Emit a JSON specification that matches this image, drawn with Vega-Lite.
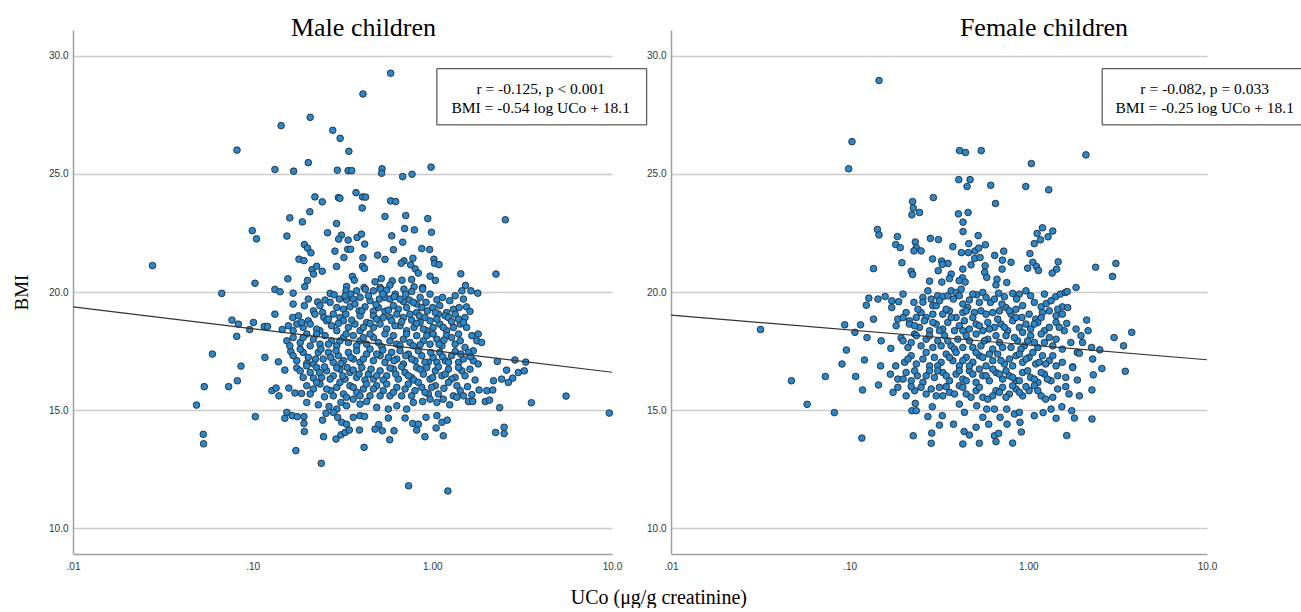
{
"$schema": "https://vega.github.io/schema/vega-lite/v6.json",
"background": "white",
"padding": {"left": 12, "top": 15, "right": 0, "bottom": 0},
"spacing": 59,
"bounds": "flush",
"title": {"text": "UCo (μg/g creatinine)", "orient": "bottom", "anchor": "middle", "dx": -5, "font": "Liberation Serif", "fontSize": 20, "fontWeight": "normal", "color": "#000000", "offset": 17},
"datasets": {
"maleBox": [{"uco": 1.06, "uco2": 15.6, "bmi": 29.46, "bmi2": 27.08}],
"femaleBox": [{"uco": 2.59, "uco2": 40.0, "bmi": 29.46, "bmi2": 27.08}],
"maleText": [{"uco": 4.01, "bmi": 28.62, "label": "r = -0.125, p < 0.001"}, {"uco": 4.01, "bmi": 27.81, "label": "BMI = -0.54 log UCo + 18.1"}],
"femaleText": [{"uco": 9.7, "bmi": 28.62, "label": "r = -0.082, p = 0.033"}, {"uco": 9.7, "bmi": 27.81, "label": "BMI = -0.25 log UCo + 18.1"}],
"maleLine": [{"uco": 0.01, "bmi": 19.37}, {"uco": 10, "bmi": 16.6}],
"femaleLine": [{"uco": 0.01, "bmi": 19.02}, {"uco": 10, "bmi": 17.13}],
"male": [
{"uco":0.586,"bmi":29.27},{"uco":0.411,"bmi":28.39},{"uco":0.209,"bmi":27.40},{"uco":0.144,"bmi":27.05},{"uco":0.279,"bmi":26.85},{"uco":0.307,"bmi":26.51},{"uco":0.0818,"bmi":26.01},{"uco":0.343,"bmi":25.96},{"uco":0.204,"bmi":25.48},{"uco":0.133,"bmi":25.19},
{"uco":0.169,"bmi":25.12},{"uco":0.296,"bmi":25.16},{"uco":0.340,"bmi":25.14},{"uco":0.356,"bmi":25.14},{"uco":0.525,"bmi":25.22},{"uco":0.522,"bmi":25.03},{"uco":0.684,"bmi":24.89},{"uco":0.771,"bmi":24.99},{"uco":0.984,"bmi":25.29},{"uco":0.222,"bmi":24.03},
{"uco":0.244,"bmi":23.82},{"uco":0.300,"bmi":24.00},{"uco":0.306,"bmi":23.97},{"uco":0.376,"bmi":24.21},{"uco":0.409,"bmi":24.03},{"uco":0.425,"bmi":24.02},{"uco":0.586,"bmi":23.86},{"uco":0.625,"bmi":23.83},{"uco":0.407,"bmi":23.56},{"uco":0.208,"bmi":23.40},
{"uco":0.161,"bmi":23.14},{"uco":0.189,"bmi":22.97},{"uco":0.545,"bmi":23.20},{"uco":0.711,"bmi":23.24},{"uco":0.943,"bmi":23.11},{"uco":2.55,"bmi":23.06},{"uco":0.293,"bmi":22.90},{"uco":0.0995,"bmi":22.60},{"uco":0.105,"bmi":22.25},{"uco":0.155,"bmi":22.37},
{"uco":0.261,"bmi":22.51},{"uco":0.312,"bmi":22.41},{"uco":0.301,"bmi":22.24},{"uco":0.340,"bmi":22.20},{"uco":0.381,"bmi":22.31},{"uco":0.403,"bmi":22.45},{"uco":0.420,"bmi":22.03},{"uco":0.594,"bmi":22.38},{"uco":0.701,"bmi":22.69},{"uco":0.794,"bmi":22.63},
{"uco":0.989,"bmi":22.53},{"uco":0.684,"bmi":22.11},{"uco":0.194,"bmi":22.01},{"uco":0.202,"bmi":21.86},{"uco":0.211,"bmi":21.66},{"uco":0.287,"bmi":21.73},{"uco":0.338,"bmi":21.81},{"uco":0.351,"bmi":21.81},{"uco":0.322,"bmi":21.46},{"uco":0.181,"bmi":21.39},
{"uco":0.193,"bmi":21.33},{"uco":0.293,"bmi":21.08},{"uco":0.411,"bmi":21.45},{"uco":0.409,"bmi":21.09},{"uco":0.419,"bmi":21.00},{"uco":0.496,"bmi":21.56},{"uco":0.545,"bmi":21.38},{"uco":0.607,"bmi":21.79},{"uco":0.873,"bmi":21.84},{"uco":0.966,"bmi":21.80},
{"uco":0.780,"bmi":21.43},{"uco":0.695,"bmi":21.32},{"uco":0.671,"bmi":21.22},{"uco":0.757,"bmi":21.15},{"uco":0.803,"bmi":20.98},{"uco":0.835,"bmi":20.80},{"uco":1.02,"bmi":21.39},{"uco":1.03,"bmi":21.21},{"uco":1.09,"bmi":21.16},{"uco":0.0277,"bmi":21.12},
{"uco":0.214,"bmi":20.95},{"uco":0.227,"bmi":21.09},{"uco":0.244,"bmi":20.88},{"uco":0.218,"bmi":20.76},{"uco":0.103,"bmi":20.37},{"uco":0.157,"bmi":20.56},{"uco":0.202,"bmi":20.49},{"uco":0.195,"bmi":20.23},{"uco":0.359,"bmi":20.66},{"uco":0.368,"bmi":20.50},
{"uco":0.480,"bmi":20.43},{"uco":0.520,"bmi":20.57},{"uco":0.598,"bmi":20.47},{"uco":0.678,"bmi":20.50},{"uco":0.767,"bmi":20.53},{"uco":0.971,"bmi":20.67},{"uco":1.04,"bmi":20.49},{"uco":1.44,"bmi":20.77},{"uco":2.26,"bmi":20.76},{"uco":1.53,"bmi":20.28},
{"uco":0.333,"bmi":20.23},{"uco":0.417,"bmi":20.19},{"uco":0.512,"bmi":20.19},{"uco":0.581,"bmi":20.29},{"uco":0.791,"bmi":20.22},{"uco":0.883,"bmi":20.19},
{"uco":0.0673,"bmi":19.94},{"uco":0.133,"bmi":20.11},{"uco":0.142,"bmi":20.01},{"uco":0.168,"bmi":19.95},{"uco":0.270,"bmi":19.94},{"uco":0.284,"bmi":19.88},{"uco":0.331,"bmi":20.05},{"uco":0.351,"bmi":19.91},{"uco":0.379,"bmi":20.05},{"uco":0.424,"bmi":20.12},
{"uco":0.470,"bmi":20.05},{"uco":0.516,"bmi":20.12},{"uco":0.557,"bmi":20.08},{"uco":0.622,"bmi":19.91},{"uco":0.695,"bmi":20.12},{"uco":0.767,"bmi":20.02},{"uco":0.883,"bmi":20.12},{"uco":1.34,"bmi":19.84},{"uco":1.46,"bmi":20.05},{"uco":1.64,"bmi":20.05},
{"uco":1.79,"bmi":19.95},
{"uco":0.168,"bmi":19.49},{"uco":0.230,"bmi":19.58},{"uco":0.253,"bmi":19.66},{"uco":0.304,"bmi":19.70},{"uco":0.333,"bmi":19.66},{"uco":0.363,"bmi":19.70},{"uco":0.396,"bmi":19.77},{"uco":0.450,"bmi":19.63},{"uco":0.507,"bmi":19.70},{"uco":0.545,"bmi":19.77},
{"uco":0.581,"bmi":19.70},{"uco":0.615,"bmi":19.80},{"uco":0.690,"bmi":19.60},{"uco":0.745,"bmi":19.66},{"uco":0.818,"bmi":19.49},{"uco":0.922,"bmi":19.56},{"uco":1.06,"bmi":19.67},{"uco":1.14,"bmi":19.77},
{"uco":0.194,"bmi":19.42},{"uco":0.218,"bmi":19.20},{"uco":0.245,"bmi":19.13},{"uco":0.320,"bmi":19.27},{"uco":0.348,"bmi":19.37},{"uco":0.391,"bmi":19.20},{"uco":0.422,"bmi":19.37},{"uco":0.470,"bmi":19.18},{"uco":0.501,"bmi":19.34},{"uco":0.545,"bmi":19.18},
{"uco":0.607,"bmi":19.42},{"uco":0.647,"bmi":19.27},{"uco":0.719,"bmi":19.34},{"uco":0.818,"bmi":19.13},{"uco":0.873,"bmi":19.34},{"uco":0.938,"bmi":19.20},{"uco":1.005,"bmi":19.34},{"uco":1.20,"bmi":19.13},{"uco":1.31,"bmi":19.27},{"uco":1.55,"bmi":19.37},
{"uco":1.62,"bmi":19.18},
{"uco":0.0767,"bmi":18.81},{"uco":0.0832,"bmi":18.64},{"uco":0.101,"bmi":18.71},{"uco":0.0962,"bmi":18.41},{"uco":0.116,"bmi":18.54},{"uco":0.121,"bmi":18.54},{"uco":0.133,"bmi":19.06},{"uco":0.146,"bmi":18.41},{"uco":0.158,"bmi":18.57},{"uco":0.167,"bmi":18.92},
{"uco":0.168,"bmi":18.36},{"uco":0.180,"bmi":18.99},{"uco":0.176,"bmi":18.64},{"uco":0.191,"bmi":18.50},{"uco":0.204,"bmi":18.78},{"uco":0.209,"bmi":18.64},{"uco":0.222,"bmi":19.06},{"uco":0.237,"bmi":18.36},{"uco":0.249,"bmi":18.92},{"uco":0.258,"bmi":18.78},
{"uco":0.275,"bmi":18.57},{"uco":0.281,"bmi":19.06},{"uco":0.294,"bmi":18.36},{"uco":0.306,"bmi":18.92},{"uco":0.320,"bmi":18.78},{"uco":0.330,"bmi":19.06},{"uco":0.341,"bmi":18.50},{"uco":0.371,"bmi":18.64},{"uco":0.396,"bmi":18.36},{"uco":0.396,"bmi":18.99},
{"uco":0.431,"bmi":18.71},{"uco":0.470,"bmi":18.50},{"uco":0.470,"bmi":18.99},{"uco":0.490,"bmi":18.85},{"uco":0.512,"bmi":18.64},{"uco":0.557,"bmi":18.43},{"uco":0.581,"bmi":18.92},{"uco":0.594,"bmi":18.78},{"uco":0.634,"bmi":19.06},{"uco":0.661,"bmi":18.57},
{"uco":0.690,"bmi":18.92},{"uco":0.719,"bmi":18.36},{"uco":0.767,"bmi":18.81},{"uco":0.791,"bmi":18.50},{"uco":0.847,"bmi":18.99},{"uco":0.855,"bmi":18.71},{"uco":0.910,"bmi":18.92},{"uco":0.931,"bmi":18.36},{"uco":1.01,"bmi":18.50},{"uco":1.08,"bmi":19.06},
{"uco":1.10,"bmi":18.64},{"uco":1.18,"bmi":18.99},{"uco":1.20,"bmi":18.36},{"uco":1.23,"bmi":18.92},{"uco":1.31,"bmi":18.50},{"uco":1.34,"bmi":19.06},{"uco":1.43,"bmi":18.64},{"uco":1.52,"bmi":18.92},{"uco":1.55,"bmi":18.50},{"uco":1.66,"bmi":18.15},
{"uco":1.77,"bmi":17.93},{"uco":1.80,"bmi":18.22},{"uco":1.88,"bmi":17.86},
{"uco":0.0815,"bmi":18.12},{"uco":0.155,"bmi":17.93},{"uco":0.168,"bmi":18.07},{"uco":0.184,"bmi":17.86},{"uco":0.200,"bmi":18.22},{"uco":0.218,"bmi":18.00},{"uco":0.237,"bmi":17.79},{"uco":0.253,"bmi":18.15},{"uco":0.275,"bmi":17.93},{"uco":0.294,"bmi":17.72},
{"uco":0.320,"bmi":18.07},{"uco":0.341,"bmi":17.86},{"uco":0.363,"bmi":18.15},{"uco":0.396,"bmi":17.93},{"uco":0.431,"bmi":17.79},{"uco":0.470,"bmi":18.07},{"uco":0.501,"bmi":17.86},{"uco":0.545,"bmi":18.22},{"uco":0.581,"bmi":17.93},{"uco":0.634,"bmi":17.79},
{"uco":0.690,"bmi":18.00},{"uco":0.751,"bmi":17.86},{"uco":0.818,"bmi":18.15},{"uco":0.891,"bmi":17.93},{"uco":0.971,"bmi":17.79},{"uco":1.06,"bmi":18.00},{"uco":1.13,"bmi":17.72},{"uco":1.20,"bmi":18.15},{"uco":1.34,"bmi":17.79},{"uco":1.43,"bmi":17.93},
{"uco":1.52,"bmi":17.65},{"uco":1.69,"bmi":17.51},
{"uco":0.0597,"bmi":17.37},{"uco":0.117,"bmi":17.23},{"uco":0.139,"bmi":17.04},{"uco":0.163,"bmi":17.48},{"uco":0.176,"bmi":17.09},{"uco":0.191,"bmi":17.44},{"uco":0.204,"bmi":17.23},{"uco":0.218,"bmi":16.95},{"uco":0.232,"bmi":17.44},{"uco":0.247,"bmi":17.16},
{"uco":0.264,"bmi":17.44},{"uco":0.281,"bmi":17.02},{"uco":0.300,"bmi":17.30},{"uco":0.320,"bmi":17.09},{"uco":0.341,"bmi":17.44},{"uco":0.363,"bmi":17.16},{"uco":0.396,"bmi":17.02},{"uco":0.431,"bmi":17.37},{"uco":0.470,"bmi":17.09},{"uco":0.512,"bmi":17.30},
{"uco":0.545,"bmi":17.02},{"uco":0.594,"bmi":17.44},{"uco":0.634,"bmi":17.16},{"uco":0.690,"bmi":16.95},{"uco":0.735,"bmi":17.37},{"uco":0.801,"bmi":17.09},{"uco":0.873,"bmi":17.30},{"uco":0.950,"bmi":17.02},{"uco":1.01,"bmi":17.23},{"uco":1.10,"bmi":17.44},
{"uco":1.18,"bmi":17.09},{"uco":1.28,"bmi":17.30},{"uco":1.40,"bmi":17.02},{"uco":1.49,"bmi":17.16},{"uco":1.59,"bmi":17.44},{"uco":1.69,"bmi":17.09},{"uco":1.80,"bmi":16.95},{"uco":2.30,"bmi":17.06},{"uco":2.88,"bmi":17.12},{"uco":3.31,"bmi":17.03},
{"uco":0.0861,"bmi":16.86},{"uco":0.0822,"bmi":16.24},{"uco":0.151,"bmi":16.69},{"uco":0.176,"bmi":16.78},{"uco":0.191,"bmi":16.38},{"uco":0.209,"bmi":16.59},{"uco":0.227,"bmi":16.80},{"uco":0.242,"bmi":16.38},{"uco":0.258,"bmi":16.66},{"uco":0.281,"bmi":16.45},
{"uco":0.306,"bmi":16.73},{"uco":0.327,"bmi":16.31},{"uco":0.348,"bmi":16.59},{"uco":0.379,"bmi":16.38},{"uco":0.405,"bmi":16.80},{"uco":0.441,"bmi":16.52},{"uco":0.470,"bmi":16.31},{"uco":0.512,"bmi":16.66},{"uco":0.557,"bmi":16.45},{"uco":0.607,"bmi":16.73},
{"uco":0.647,"bmi":16.31},{"uco":0.705,"bmi":16.59},{"uco":0.767,"bmi":16.38},{"uco":0.818,"bmi":16.80},{"uco":0.891,"bmi":16.52},{"uco":0.971,"bmi":16.31},{"uco":1.04,"bmi":16.66},{"uco":1.13,"bmi":16.45},{"uco":1.23,"bmi":16.73},{"uco":1.34,"bmi":16.38},
{"uco":1.46,"bmi":16.66},{"uco":1.62,"bmi":16.73},{"uco":1.73,"bmi":16.27},{"uco":2.19,"bmi":16.24},{"uco":2.43,"bmi":16.31},{"uco":2.59,"bmi":16.69},{"uco":2.80,"bmi":16.35},{"uco":3.01,"bmi":16.59},{"uco":3.25,"bmi":16.66},{"uco":2.65,"bmi":16.17},
{"uco":0.0538,"bmi":15.99},{"uco":0.0735,"bmi":15.99},{"uco":0.128,"bmi":15.82},{"uco":0.135,"bmi":15.93},{"uco":0.140,"bmi":15.60},{"uco":0.159,"bmi":15.93},{"uco":0.172,"bmi":15.72},{"uco":0.187,"bmi":15.70},{"uco":0.200,"bmi":16.03},{"uco":0.218,"bmi":15.89},
{"uco":0.237,"bmi":16.10},{"uco":0.251,"bmi":15.56},{"uco":0.272,"bmi":15.82},{"uco":0.294,"bmi":15.96},{"uco":0.320,"bmi":15.68},{"uco":0.348,"bmi":16.03},{"uco":0.379,"bmi":15.75},{"uco":0.413,"bmi":15.89},{"uco":0.450,"bmi":15.60},{"uco":0.490,"bmi":16.03},
{"uco":0.533,"bmi":15.82},{"uco":0.581,"bmi":15.60},{"uco":0.634,"bmi":15.96},{"uco":0.675,"bmi":15.60},{"uco":0.735,"bmi":16.10},{"uco":0.801,"bmi":15.82},{"uco":0.873,"bmi":15.96},{"uco":0.950,"bmi":15.68},{"uco":1.04,"bmi":16.03},{"uco":1.16,"bmi":15.92},
{"uco":1.31,"bmi":15.60},{"uco":1.43,"bmi":15.82},{"uco":1.57,"bmi":15.99},{"uco":1.66,"bmi":15.65},{"uco":1.82,"bmi":15.85},{"uco":2.01,"bmi":15.82},{"uco":2.17,"bmi":15.85},
{"uco":0.0487,"bmi":15.21},{"uco":0.155,"bmi":14.90},{"uco":0.200,"bmi":15.32},{"uco":0.232,"bmi":15.22},{"uco":0.266,"bmi":15.15},{"uco":0.294,"bmi":15.04},{"uco":0.310,"bmi":15.32},{"uco":0.333,"bmi":15.18},{"uco":0.363,"bmi":15.46},{"uco":0.396,"bmi":15.25},
{"uco":0.431,"bmi":15.36},{"uco":0.490,"bmi":15.11},{"uco":0.569,"bmi":15.04},{"uco":0.634,"bmi":15.18},{"uco":0.719,"bmi":15.04},{"uco":0.784,"bmi":15.32},{"uco":0.883,"bmi":15.36},{"uco":0.971,"bmi":15.46},{"uco":1.06,"bmi":15.32},{"uco":1.15,"bmi":15.46},
{"uco":1.25,"bmi":15.22},{"uco":1.37,"bmi":15.54},{"uco":1.59,"bmi":15.36},{"uco":1.68,"bmi":15.36},{"uco":1.97,"bmi":15.36},{"uco":2.08,"bmi":15.42},{"uco":2.37,"bmi":15.10},{"uco":3.56,"bmi":15.31},{"uco":5.55,"bmi":15.59},{"uco":9.66,"bmi":14.87},
{"uco":0.1035,"bmi":14.72},{"uco":0.151,"bmi":14.65},{"uco":0.166,"bmi":14.76},{"uco":0.177,"bmi":14.72},{"uco":0.193,"bmi":14.72},{"uco":0.193,"bmi":14.43},{"uco":0.245,"bmi":14.57},{"uco":0.256,"bmi":14.86},{"uco":0.281,"bmi":14.90},{"uco":0.297,"bmi":14.69},
{"uco":0.313,"bmi":14.48},{"uco":0.333,"bmi":14.40},{"uco":0.363,"bmi":14.69},{"uco":0.396,"bmi":14.76},{"uco":0.419,"bmi":14.73},{"uco":0.503,"bmi":14.38},{"uco":0.480,"bmi":14.19},{"uco":0.527,"bmi":14.12},{"uco":0.569,"bmi":14.66},{"uco":0.612,"bmi":14.12},
{"uco":0.705,"bmi":14.66},{"uco":0.778,"bmi":14.43},{"uco":0.836,"bmi":14.40},{"uco":0.922,"bmi":14.69},{"uco":1.06,"bmi":14.76},{"uco":1.13,"bmi":14.48},{"uco":1.21,"bmi":14.57},{"uco":1.05,"bmi":14.24},{"uco":0.818,"bmi":14.15},
{"uco":0.0531,"bmi":13.97},{"uco":0.0533,"bmi":13.57},{"uco":0.194,"bmi":14.09},{"uco":0.248,"bmi":13.87},{"uco":0.291,"bmi":13.77},{"uco":0.310,"bmi":13.95},{"uco":0.327,"bmi":14.05},{"uco":0.345,"bmi":14.15},{"uco":0.393,"bmi":14.15},{"uco":0.417,"bmi":13.42},
{"uco":0.579,"bmi":13.74},{"uco":0.910,"bmi":13.87},{"uco":1.15,"bmi":13.91},{"uco":2.25,"bmi":14.05},{"uco":2.51,"bmi":14.00},{"uco":2.51,"bmi":14.27},{"uco":0.174,"bmi":13.28},{"uco":0.241,"bmi":12.74},{"uco":0.738,"bmi":11.79},{"uco":1.22,"bmi":11.57},
{"uco":0.187,"bmi":18.71},{"uco":0.227,"bmi":18.43},{"uco":0.264,"bmi":18.85},{"uco":0.300,"bmi":18.67},{"uco":0.356,"bmi":18.81},{"uco":0.413,"bmi":18.50},{"uco":0.450,"bmi":18.67},{"uco":0.533,"bmi":18.92},{"uco":0.620,"bmi":18.57},{"uco":0.675,"bmi":18.75},
{"uco":0.751,"bmi":19.06},{"uco":0.818,"bmi":18.67},{"uco":0.891,"bmi":18.43},{"uco":0.971,"bmi":18.78},{"uco":1.06,"bmi":18.85},{"uco":1.15,"bmi":18.50},{"uco":1.28,"bmi":18.75},{"uco":1.40,"bmi":18.85},{"uco":1.49,"bmi":18.71},
{"uco":0.161,"bmi":17.72},{"uco":0.191,"bmi":18.07},{"uco":0.209,"bmi":17.72},{"uco":0.227,"bmi":18.22},{"uco":0.264,"bmi":17.79},{"uco":0.306,"bmi":17.93},{"uco":0.331,"bmi":18.22},{"uco":0.379,"bmi":17.72},{"uco":0.413,"bmi":18.07},{"uco":0.450,"bmi":18.22},
{"uco":0.523,"bmi":17.68},{"uco":0.607,"bmi":18.15},{"uco":0.661,"bmi":17.72},{"uco":0.719,"bmi":18.22},{"uco":0.784,"bmi":17.72},{"uco":0.855,"bmi":17.76},{"uco":0.931,"bmi":18.15},{"uco":1.01,"bmi":18.22},{"uco":1.09,"bmi":17.79},{"uco":1.16,"bmi":17.96},
{"uco":1.28,"bmi":18.07},{"uco":1.40,"bmi":18.22},
{"uco":0.168,"bmi":17.30},{"uco":0.184,"bmi":17.58},{"uco":0.200,"bmi":16.97},{"uco":0.224,"bmi":17.16},{"uco":0.240,"bmi":17.58},{"uco":0.272,"bmi":17.23},{"uco":0.291,"bmi":17.51},{"uco":0.310,"bmi":16.97},{"uco":0.351,"bmi":17.23},{"uco":0.379,"bmi":17.51},
{"uco":0.413,"bmi":17.16},{"uco":0.450,"bmi":17.58},{"uco":0.490,"bmi":17.37},{"uco":0.530,"bmi":17.54},{"uco":0.569,"bmi":17.23},{"uco":0.612,"bmi":17.09},{"uco":0.661,"bmi":17.51},{"uco":0.711,"bmi":17.30},{"uco":0.767,"bmi":17.16},{"uco":0.836,"bmi":17.51},
{"uco":0.910,"bmi":17.02},{"uco":0.980,"bmi":17.44},{"uco":1.06,"bmi":17.02},{"uco":1.14,"bmi":17.26},{"uco":1.23,"bmi":17.02},{"uco":1.34,"bmi":17.48},{"uco":1.44,"bmi":17.37},{"uco":1.63,"bmi":17.26},
{"uco":0.184,"bmi":16.66},{"uco":0.200,"bmi":16.87},{"uco":0.218,"bmi":16.35},{"uco":0.235,"bmi":16.59},{"uco":0.251,"bmi":16.83},{"uco":0.270,"bmi":16.31},{"uco":0.294,"bmi":16.78},{"uco":0.317,"bmi":16.45},{"uco":0.336,"bmi":16.80},{"uco":0.363,"bmi":16.69},
{"uco":0.391,"bmi":16.52},{"uco":0.422,"bmi":16.27},{"uco":0.456,"bmi":16.73},{"uco":0.490,"bmi":16.45},{"uco":0.533,"bmi":16.27},{"uco":0.581,"bmi":16.78},{"uco":0.626,"bmi":16.52},{"uco":0.675,"bmi":16.83},{"uco":0.735,"bmi":16.45},{"uco":0.791,"bmi":16.27},
{"uco":0.855,"bmi":16.73},{"uco":0.931,"bmi":16.80},{"uco":1.005,"bmi":16.38},{"uco":1.08,"bmi":16.83},{"uco":1.18,"bmi":16.52},{"uco":1.28,"bmi":16.31},{"uco":1.40,"bmi":16.80},{"uco":1.52,"bmi":16.45},
{"uco":0.209,"bmi":15.68},{"uco":0.227,"bmi":16.17},{"uco":0.258,"bmi":15.89},{"uco":0.281,"bmi":15.60},{"uco":0.306,"bmi":16.17},{"uco":0.333,"bmi":15.54},{"uco":0.363,"bmi":15.96},{"uco":0.396,"bmi":15.60},{"uco":0.431,"bmi":16.10},{"uco":0.470,"bmi":15.89},
{"uco":0.512,"bmi":15.60},{"uco":0.557,"bmi":16.10},{"uco":0.607,"bmi":15.75},{"uco":0.705,"bmi":15.89},{"uco":0.767,"bmi":15.60},{"uco":0.836,"bmi":16.17},{"uco":0.910,"bmi":15.75},{"uco":0.991,"bmi":15.96},{"uco":1.08,"bmi":15.68},{"uco":1.23,"bmi":16.17},
{"uco":1.37,"bmi":16.03},{"uco":1.49,"bmi":15.60},
{"uco":0.204,"bmi":19.70},{"uco":0.237,"bmi":19.42},{"uco":0.270,"bmi":19.56},{"uco":0.294,"bmi":19.34},{"uco":0.327,"bmi":19.84},{"uco":0.371,"bmi":19.49},{"uco":0.405,"bmi":19.20},{"uco":0.441,"bmi":19.84},{"uco":0.486,"bmi":19.46},{"uco":0.530,"bmi":19.91},
{"uco":0.569,"bmi":19.23},{"uco":0.661,"bmi":19.70},{"uco":0.711,"bmi":19.91},{"uco":0.784,"bmi":19.56},{"uco":0.855,"bmi":19.77},{"uco":0.971,"bmi":19.91},{"uco":1.04,"bmi":19.13},{"uco":1.10,"bmi":19.42},{"uco":1.25,"bmi":19.63},{"uco":1.41,"bmi":19.34},
{"uco":1.49,"bmi":19.70}
],
"female": [
{"uco":0.146,"bmi":28.96},{"uco":0.103,"bmi":26.37},{"uco":0.0987,"bmi":25.22},{"uco":0.412,"bmi":25.99},{"uco":0.445,"bmi":25.91},{"uco":0.545,"bmi":25.99},{"uco":1.04,"bmi":25.44},{"uco":2.10,"bmi":25.81},{"uco":0.408,"bmi":24.76},{"uco":0.472,"bmi":24.76},
{"uco":0.454,"bmi":24.47},{"uco":0.616,"bmi":24.52},{"uco":0.967,"bmi":24.47},{"uco":1.30,"bmi":24.33},{"uco":0.294,"bmi":24.00},{"uco":0.225,"bmi":23.83},{"uco":0.227,"bmi":23.56},{"uco":0.223,"bmi":23.27},{"uco":0.246,"bmi":23.37},{"uco":0.655,"bmi":23.75},
{"uco":0.406,"bmi":23.31},{"uco":0.460,"bmi":23.37},{"uco":0.431,"bmi":22.96},{"uco":0.431,"bmi":22.56},{"uco":0.143,"bmi":22.65},{"uco":0.146,"bmi":22.42},{"uco":0.185,"bmi":22.35},{"uco":0.181,"bmi":22.01},{"uco":0.192,"bmi":21.88},{"uco":0.233,"bmi":22.12},
{"uco":0.236,"bmi":21.88},{"uco":0.251,"bmi":21.74},{"uco":0.229,"bmi":21.74},{"uco":0.283,"bmi":22.27},{"uco":0.314,"bmi":22.22},{"uco":0.378,"bmi":21.92},{"uco":0.422,"bmi":21.67},{"uco":0.464,"bmi":22.05},{"uco":0.462,"bmi":21.67},{"uco":0.504,"bmi":21.74},
{"uco":0.528,"bmi":21.86},{"uco":0.575,"bmi":22.00},{"uco":0.524,"bmi":22.39},{"uco":0.501,"bmi":21.42},{"uco":0.537,"bmi":21.46},{"uco":0.478,"bmi":21.15},{"uco":0.648,"bmi":21.55},{"uco":0.728,"bmi":21.73},{"uco":0.716,"bmi":21.35},{"uco":0.800,"bmi":21.26},
{"uco":0.713,"bmi":20.97},{"uco":0.573,"bmi":21.11},{"uco":0.570,"bmi":20.83},{"uco":0.585,"bmi":20.62},{"uco":1.02,"bmi":21.63},{"uco":1.06,"bmi":21.26},{"uco":0.991,"bmi":21.01},{"uco":1.08,"bmi":22.05},{"uco":1.12,"bmi":22.48},{"uco":1.20,"bmi":22.72},
{"uco":1.17,"bmi":22.21},{"uco":1.11,"bmi":21.08},{"uco":1.14,"bmi":20.91},{"uco":1.29,"bmi":22.34},{"uco":1.37,"bmi":22.58},{"uco":1.47,"bmi":21.28},{"uco":1.44,"bmi":20.97},{"uco":1.36,"bmi":20.80},{"uco":2.38,"bmi":21.05},{"uco":3.09,"bmi":21.21},
{"uco":2.96,"bmi":20.66},{"uco":0.136,"bmi":20.99},{"uco":0.196,"bmi":21.24},{"uco":0.221,"bmi":20.88},{"uco":0.225,"bmi":20.74},{"uco":0.291,"bmi":21.40},{"uco":0.327,"bmi":21.31},{"uco":0.355,"bmi":21.21},{"uco":0.313,"bmi":20.90},{"uco":0.330,"bmi":21.17},
{"uco":0.280,"bmi":20.46},{"uco":0.328,"bmi":20.42},{"uco":0.370,"bmi":20.76},{"uco":0.362,"bmi":20.57},{"uco":0.430,"bmi":20.97},{"uco":0.428,"bmi":20.60},{"uco":0.410,"bmi":20.48},{"uco":0.443,"bmi":20.42},{"uco":0.757,"bmi":20.40},{"uco":0.668,"bmi":20.54},
{"uco":0.659,"bmi":20.30},
{"uco":0.128,"bmi":19.74},{"uco":0.124,"bmi":19.44},{"uco":0.144,"bmi":19.70},{"uco":0.158,"bmi":19.81},{"uco":0.172,"bmi":19.63},{"uco":0.172,"bmi":19.34},{"uco":0.188,"bmi":19.59},{"uco":0.229,"bmi":19.56},{"uco":0.257,"bmi":19.77},{"uco":0.257,"bmi":19.57},
{"uco":0.286,"bmi":19.70},{"uco":0.292,"bmi":19.42},{"uco":0.311,"bmi":19.84},{"uco":0.332,"bmi":19.80},{"uco":0.354,"bmi":19.84},{"uco":0.370,"bmi":20.05},{"uco":0.394,"bmi":19.98},{"uco":0.411,"bmi":19.84},{"uco":0.430,"bmi":19.49},{"uco":0.468,"bmi":19.66},
{"uco":0.514,"bmi":19.88},{"uco":0.556,"bmi":19.98},{"uco":0.580,"bmi":19.77},{"uco":0.614,"bmi":19.56},{"uco":0.682,"bmi":19.95},{"uco":0.734,"bmi":19.80},{"uco":0.817,"bmi":19.94},{"uco":0.891,"bmi":19.91},{"uco":0.929,"bmi":19.42},{"uco":1.03,"bmi":19.84},
{"uco":1.18,"bmi":19.37},{"uco":1.26,"bmi":19.51},{"uco":1.42,"bmi":19.80},{"uco":1.51,"bmi":19.91},{"uco":1.61,"bmi":19.98},{"uco":1.85,"bmi":20.19},{"uco":1.55,"bmi":19.37},{"uco":1.65,"bmi":20.02},
{"uco":0.136,"bmi":18.85},{"uco":0.186,"bmi":18.85},{"uco":0.207,"bmi":19.13},{"uco":0.216,"bmi":18.78},{"uco":0.236,"bmi":18.92},{"uco":0.251,"bmi":19.13},{"uco":0.268,"bmi":18.92},{"uco":0.292,"bmi":19.06},{"uco":0.305,"bmi":19.42},{"uco":0.332,"bmi":19.06},
{"uco":0.362,"bmi":19.20},{"uco":0.394,"bmi":18.92},{"uco":0.430,"bmi":19.13},{"uco":0.458,"bmi":19.34},{"uco":0.499,"bmi":19.13},{"uco":0.543,"bmi":19.20},{"uco":0.580,"bmi":19.06},{"uco":0.632,"bmi":19.13},{"uco":0.689,"bmi":19.20},{"uco":0.750,"bmi":19.34},
{"uco":0.800,"bmi":19.06},{"uco":0.853,"bmi":19.27},{"uco":0.921,"bmi":18.92},{"uco":1.01,"bmi":19.06},{"uco":1.10,"bmi":18.85},{"uco":1.20,"bmi":19.13},{"uco":1.31,"bmi":19.20},{"uco":1.43,"bmi":18.99},{"uco":1.55,"bmi":19.06},{"uco":1.66,"bmi":19.34},
{"uco":0.0938,"bmi":18.61},{"uco":0.115,"bmi":18.61},{"uco":0.107,"bmi":18.29},{"uco":0.182,"bmi":18.57},{"uco":0.216,"bmi":18.64},{"uco":0.231,"bmi":18.22},{"uco":0.246,"bmi":18.50},{"uco":0.262,"bmi":18.78},{"uco":0.280,"bmi":18.36},{"uco":0.305,"bmi":18.64},
{"uco":0.332,"bmi":18.43},{"uco":0.354,"bmi":18.71},{"uco":0.386,"bmi":18.36},{"uco":0.411,"bmi":18.57},{"uco":0.439,"bmi":18.78},{"uco":0.468,"bmi":18.43},{"uco":0.510,"bmi":18.64},{"uco":0.556,"bmi":18.36},{"uco":0.593,"bmi":18.71},{"uco":0.646,"bmi":18.50},
{"uco":0.703,"bmi":18.64},{"uco":0.766,"bmi":18.36},{"uco":0.817,"bmi":18.78},{"uco":0.891,"bmi":18.50},{"uco":0.970,"bmi":18.64},{"uco":1.03,"bmi":18.43},{"uco":1.13,"bmi":18.71},{"uco":1.23,"bmi":18.36},{"uco":1.31,"bmi":18.50},{"uco":1.43,"bmi":18.71},
{"uco":1.59,"bmi":18.36},{"uco":1.64,"bmi":18.67},{"uco":1.85,"bmi":18.43},{"uco":1.97,"bmi":18.15},{"uco":2.12,"bmi":18.81},{"uco":2.16,"bmi":18.36},{"uco":3.02,"bmi":18.07},{"uco":3.41,"bmi":17.72},{"uco":3.79,"bmi":18.29},{"uco":2.26,"bmi":17.65},
{"uco":2.51,"bmi":17.55},{"uco":0.0317,"bmi":18.41},
{"uco":0.0958,"bmi":17.54},{"uco":0.125,"bmi":18.07},{"uco":0.150,"bmi":17.93},{"uco":0.170,"bmi":17.61},{"uco":0.194,"bmi":18.05},{"uco":0.199,"bmi":17.93},{"uco":0.212,"bmi":17.65},{"uco":0.236,"bmi":18.15},{"uco":0.251,"bmi":17.72},{"uco":0.268,"bmi":18.00},
{"uco":0.292,"bmi":17.65},{"uco":0.311,"bmi":17.93},{"uco":0.340,"bmi":18.15},{"uco":0.370,"bmi":17.72},{"uco":0.403,"bmi":18.00},{"uco":0.430,"bmi":17.65},{"uco":0.468,"bmi":17.93},{"uco":0.510,"bmi":18.22},{"uco":0.543,"bmi":17.72},{"uco":0.593,"bmi":18.00},
{"uco":0.632,"bmi":17.58},{"uco":0.689,"bmi":17.86},{"uco":0.750,"bmi":18.15},{"uco":0.800,"bmi":17.65},{"uco":0.871,"bmi":17.93},{"uco":0.949,"bmi":17.72},{"uco":1.03,"bmi":18.15},{"uco":1.13,"bmi":17.65},{"uco":1.23,"bmi":17.86},{"uco":1.31,"bmi":18.07},
{"uco":1.43,"bmi":18.00},{"uco":1.55,"bmi":17.58},{"uco":1.73,"bmi":17.86},{"uco":1.88,"bmi":17.44},{"uco":2.01,"bmi":17.86},
{"uco":0.0906,"bmi":16.95},{"uco":0.121,"bmi":17.12},{"uco":0.149,"bmi":16.87},{"uco":0.181,"bmi":16.87},{"uco":0.203,"bmi":17.02},{"uco":0.221,"bmi":17.30},{"uco":0.236,"bmi":16.95},{"uco":0.257,"bmi":17.16},{"uco":0.280,"bmi":16.87},{"uco":0.298,"bmi":17.23},
{"uco":0.325,"bmi":17.02},{"uco":0.347,"bmi":17.37},{"uco":0.378,"bmi":17.09},{"uco":0.411,"bmi":16.87},{"uco":0.449,"bmi":17.23},{"uco":0.489,"bmi":17.02},{"uco":0.532,"bmi":17.30},{"uco":0.580,"bmi":16.87},{"uco":0.632,"bmi":17.09},{"uco":0.674,"bmi":17.37},
{"uco":0.734,"bmi":16.95},{"uco":0.783,"bmi":17.16},{"uco":0.853,"bmi":17.30},{"uco":0.929,"bmi":17.02},{"uco":1.01,"bmi":17.23},{"uco":1.10,"bmi":16.95},{"uco":1.20,"bmi":17.30},{"uco":1.31,"bmi":17.09},{"uco":1.43,"bmi":16.87},{"uco":1.55,"bmi":17.02},
{"uco":1.77,"bmi":16.83},{"uco":1.93,"bmi":17.40},{"uco":2.29,"bmi":17.16},{"uco":2.58,"bmi":16.76},
{"uco":0.0472,"bmi":16.24},{"uco":0.0731,"bmi":16.42},{"uco":0.108,"bmi":16.42},{"uco":0.145,"bmi":16.06},{"uco":0.169,"bmi":16.52},{"uco":0.186,"bmi":16.31},{"uco":0.207,"bmi":16.59},{"uco":0.221,"bmi":16.24},{"uco":0.239,"bmi":16.45},{"uco":0.257,"bmi":16.17},
{"uco":0.280,"bmi":16.66},{"uco":0.298,"bmi":16.38},{"uco":0.332,"bmi":16.59},{"uco":0.362,"bmi":16.24},{"uco":0.394,"bmi":16.52},{"uco":0.430,"bmi":16.31},{"uco":0.468,"bmi":16.66},{"uco":0.510,"bmi":16.17},{"uco":0.556,"bmi":16.45},{"uco":0.605,"bmi":16.24},
{"uco":0.659,"bmi":16.59},{"uco":0.718,"bmi":16.31},{"uco":0.783,"bmi":16.45},{"uco":0.853,"bmi":16.24},{"uco":0.929,"bmi":16.59},{"uco":1.03,"bmi":16.38},{"uco":1.13,"bmi":16.17},{"uco":1.23,"bmi":16.52},{"uco":1.34,"bmi":16.24},{"uco":1.46,"bmi":16.45},
{"uco":1.62,"bmi":16.38},{"uco":1.88,"bmi":16.27},{"uco":2.31,"bmi":16.49},{"uco":3.49,"bmi":16.64},{"uco":1.77,"bmi":16.80},
{"uco":0.118,"bmi":15.85},{"uco":0.175,"bmi":15.75},{"uco":0.186,"bmi":15.96},{"uco":0.207,"bmi":15.60},{"uco":0.231,"bmi":15.82},{"uco":0.251,"bmi":15.96},{"uco":0.286,"bmi":15.89},{"uco":0.318,"bmi":15.96},{"uco":0.332,"bmi":15.60},{"uco":0.362,"bmi":15.75},
{"uco":0.411,"bmi":16.03},{"uco":0.449,"bmi":15.68},{"uco":0.510,"bmi":15.82},{"uco":0.556,"bmi":15.54},{"uco":0.593,"bmi":15.46},{"uco":0.659,"bmi":15.82},{"uco":0.718,"bmi":15.96},{"uco":0.783,"bmi":15.68},{"uco":0.853,"bmi":15.89},{"uco":0.929,"bmi":15.60},
{"uco":1.01,"bmi":15.82},{"uco":1.08,"bmi":16.03},{"uco":1.18,"bmi":15.60},{"uco":1.25,"bmi":15.46},{"uco":1.37,"bmi":15.54},{"uco":1.46,"bmi":15.89},{"uco":1.62,"bmi":15.99},{"uco":1.69,"bmi":15.68},{"uco":1.93,"bmi":15.60},{"uco":2.27,"bmi":15.85},
{"uco":0.0578,"bmi":15.24},{"uco":0.0821,"bmi":14.89},{"uco":0.223,"bmi":14.97},{"uco":0.236,"bmi":14.97},{"uco":0.233,"bmi":15.28},{"uco":0.274,"bmi":14.72},{"uco":0.290,"bmi":15.14},{"uco":0.330,"bmi":14.76},{"uco":0.411,"bmi":15.25},{"uco":0.439,"bmi":14.90},
{"uco":0.514,"bmi":15.18},{"uco":0.556,"bmi":14.69},{"uco":0.585,"bmi":15.04},{"uco":0.646,"bmi":15.04},{"uco":0.695,"bmi":14.69},{"uco":0.757,"bmi":15.04},{"uco":0.836,"bmi":14.83},{"uco":0.891,"bmi":14.90},{"uco":1.08,"bmi":14.76},{"uco":1.21,"bmi":14.89},
{"uco":1.34,"bmi":15.04},{"uco":1.54,"bmi":15.14},{"uco":1.75,"bmi":14.97},{"uco":1.81,"bmi":14.66},{"uco":2.27,"bmi":14.62},{"uco":1.43,"bmi":14.65},
{"uco":0.117,"bmi":13.81},{"uco":0.227,"bmi":13.91},{"uco":0.288,"bmi":14.02},{"uco":0.286,"bmi":13.59},{"uco":0.318,"bmi":14.36},{"uco":0.381,"bmi":14.40},{"uco":0.430,"bmi":13.56},{"uco":0.437,"bmi":14.09},{"uco":0.468,"bmi":13.94},{"uco":0.510,"bmi":14.27},
{"uco":0.532,"bmi":13.59},{"uco":0.600,"bmi":14.40},{"uco":0.646,"bmi":13.91},{"uco":0.659,"bmi":13.66},{"uco":0.682,"bmi":14.01},{"uco":0.760,"bmi":14.40},{"uco":0.817,"bmi":13.60},{"uco":0.898,"bmi":14.48},{"uco":0.914,"bmi":14.07},{"uco":1.64,"bmi":13.92},
{"uco":0.199,"bmi":19.91},{"uco":0.241,"bmi":19.27},{"uco":0.274,"bmi":20.05},{"uco":0.318,"bmi":19.63},{"uco":0.347,"bmi":19.27},{"uco":0.381,"bmi":19.70},{"uco":0.421,"bmi":20.12},{"uco":0.449,"bmi":19.20},{"uco":0.489,"bmi":19.91},{"uco":0.532,"bmi":19.56},
{"uco":0.646,"bmi":19.70},{"uco":0.712,"bmi":19.49},{"uco":0.783,"bmi":19.20},{"uco":0.860,"bmi":19.70},{"uco":0.970,"bmi":20.05},{"uco":1.08,"bmi":19.56},{"uco":1.23,"bmi":19.91},{"uco":1.34,"bmi":19.63},{"uco":1.46,"bmi":19.27},
{"uco":0.199,"bmi":18.92},{"uco":0.231,"bmi":18.57},{"uco":0.292,"bmi":18.71},{"uco":0.318,"bmi":18.36},{"uco":0.370,"bmi":18.92},{"uco":0.430,"bmi":18.36},{"uco":0.489,"bmi":18.92},{"uco":0.532,"bmi":18.57},{"uco":0.605,"bmi":18.43},{"uco":0.674,"bmi":18.85},
{"uco":0.734,"bmi":18.50},{"uco":0.853,"bmi":18.92},{"uco":0.929,"bmi":18.29},{"uco":1.08,"bmi":18.64},{"uco":1.18,"bmi":18.92},{"uco":1.49,"bmi":18.50},
{"uco":0.221,"bmi":17.86},{"uco":0.280,"bmi":18.15},{"uco":0.325,"bmi":17.72},{"uco":0.354,"bmi":17.93},{"uco":0.386,"bmi":17.58},{"uco":0.449,"bmi":18.15},{"uco":0.489,"bmi":17.65},{"uco":0.568,"bmi":17.93},{"uco":0.659,"bmi":18.15},{"uco":0.718,"bmi":17.65},
{"uco":0.836,"bmi":18.07},{"uco":0.910,"bmi":17.58},{"uco":0.991,"bmi":17.93},{"uco":1.08,"bmi":17.86},{"uco":1.18,"bmi":18.22},{"uco":1.37,"bmi":17.72},
{"uco":0.212,"bmi":17.16},{"uco":0.268,"bmi":17.44},{"uco":0.311,"bmi":16.87},{"uco":0.362,"bmi":17.23},{"uco":0.394,"bmi":17.44},{"uco":0.430,"bmi":17.09},{"uco":0.468,"bmi":16.87},{"uco":0.510,"bmi":17.44},{"uco":0.556,"bmi":17.23},{"uco":0.605,"bmi":17.37},
{"uco":0.703,"bmi":17.09},{"uco":0.817,"bmi":16.87},{"uco":0.891,"bmi":17.37},{"uco":0.970,"bmi":17.16},{"uco":1.06,"bmi":17.44},{"uco":1.15,"bmi":17.02},{"uco":1.25,"bmi":16.95},{"uco":1.37,"bmi":17.30},
{"uco":0.199,"bmi":16.31},{"uco":0.231,"bmi":16.66},{"uco":0.268,"bmi":16.45},{"uco":0.311,"bmi":16.66},{"uco":0.347,"bmi":16.45},{"uco":0.411,"bmi":16.66},{"uco":0.449,"bmi":16.24},{"uco":0.489,"bmi":16.52},{"uco":0.532,"bmi":16.73},{"uco":0.580,"bmi":16.45},
{"uco":0.632,"bmi":16.73},{"uco":0.689,"bmi":16.52},{"uco":0.750,"bmi":16.66},{"uco":0.817,"bmi":16.38},{"uco":0.891,"bmi":16.24},{"uco":0.991,"bmi":16.66},{"uco":1.08,"bmi":16.31},{"uco":1.18,"bmi":16.59},{"uco":1.28,"bmi":16.31},
{"uco":0.221,"bmi":15.99},{"uco":0.268,"bmi":15.68},{"uco":0.305,"bmi":15.60},{"uco":0.347,"bmi":15.99},{"uco":0.386,"bmi":15.68},{"uco":0.430,"bmi":15.96},{"uco":0.478,"bmi":15.54},{"uco":0.532,"bmi":15.96},{"uco":0.632,"bmi":15.60},{"uco":0.689,"bmi":15.75},
{"uco":0.750,"bmi":15.54},{"uco":0.817,"bmi":16.03},{"uco":0.891,"bmi":15.75},{"uco":0.970,"bmi":15.99},{"uco":1.13,"bmi":15.82}
]
},
"hconcat": [
{
"width": 539, "height": 524,
"title": {"text": "Male children", "frame": "group", "anchor": "middle", "dx": 21, "dy": 26, "offset": -6, "baseline": "alphabetic", "font": "Liberation Serif", "fontSize": 26, "fontWeight": "normal", "color": "#000000"},
"encoding": {
"x": {"field": "uco", "type": "quantitative", "scale": {"type": "log", "domain": [0.01, 10], "nice": false}, "axis": {"values": [0.01, 0.1, 1, 10], "labelExpr": "datum.value < 0.05 ? '.01' : datum.value < 0.5 ? '.10' : datum.value < 5 ? '1.00' : '10.0'", "grid": false, "title": null, "labelPadding": 7, "labelFlush": false}},
"y": {"field": "bmi", "type": "quantitative", "scale": {"domain": [8.9, 31.1], "nice": false, "zero": false}, "axis": {"values": [10, 15, 20, 25, 30], "format": ".1f", "grid": true, "labelPadding": 5, "labelFlush": false, "title": "BMI", "titleFont": "Liberation Serif", "titleFontSize": 19, "titleFontWeight": "normal", "titleColor": "#000000", "titlePadding": 17}}
},
"layer": [
{"data": {"name": "male"}, "mark": {"type": "circle", "size": 44, "fill": "#2b87c8", "stroke": "#1d2b3a", "strokeWidth": 0.9, "opacity": 1}},
{"data": {"name": "maleLine"}, "mark": {"type": "line", "color": "#333333", "strokeWidth": 1.2}, "encoding": {}},
{"data": {"name": "maleBox"}, "mark": {"type": "rect", "fill": "#ffffff", "stroke": "#333333", "strokeWidth": 1}, "encoding": {"x2": {"field": "uco2"}, "y2": {"field": "bmi2"}}},
{"data": {"name": "maleText"}, "mark": {"type": "text", "font": "Liberation Serif", "fontSize": 15.5, "align": "center", "baseline": "middle", "color": "#000000"}, "encoding": {"text": {"field": "label"}}}
]
},
{
"width": 536, "height": 524,
"title": {"text": "Female children", "frame": "group", "anchor": "middle", "dx": 105, "dy": 26, "offset": -6, "baseline": "alphabetic", "font": "Liberation Serif", "fontSize": 26, "fontWeight": "normal", "color": "#000000"},
"encoding": {
"x": {"field": "uco", "type": "quantitative", "scale": {"type": "log", "domain": [0.01, 10], "nice": false}, "axis": {"values": [0.01, 0.1, 1, 10], "labelExpr": "datum.value < 0.05 ? '.01' : datum.value < 0.5 ? '.10' : datum.value < 5 ? '1.00' : '10.0'", "grid": false, "title": null, "labelPadding": 7, "labelFlush": false}},
"y": {"field": "bmi", "type": "quantitative", "scale": {"domain": [8.9, 31.1], "nice": false, "zero": false}, "axis": {"values": [10, 15, 20, 25, 30], "format": ".1f", "grid": true, "labelPadding": 5, "labelFlush": false, "title": null}}
},
"layer": [
{"data": {"name": "female"}, "mark": {"type": "circle", "size": 44, "fill": "#2b87c8", "stroke": "#1d2b3a", "strokeWidth": 0.9, "opacity": 1}},
{"data": {"name": "femaleLine"}, "mark": {"type": "line", "color": "#333333", "strokeWidth": 1.2}, "encoding": {}},
{"data": {"name": "femaleBox"}, "mark": {"type": "rect", "fill": "#ffffff", "stroke": "#333333", "strokeWidth": 1}, "encoding": {"x2": {"field": "uco2"}, "y2": {"field": "bmi2"}}},
{"data": {"name": "femaleText"}, "mark": {"type": "text", "font": "Liberation Serif", "fontSize": 15.5, "align": "center", "baseline": "middle", "color": "#000000"}, "encoding": {"text": {"field": "label"}}}
]
}
],
"config": {
"view": {"stroke": null},
"axis": {"labelFont": "Liberation Sans", "labelFontSize": 10, "labelColor": "#333333", "domainColor": "#a0a0a0", "domainWidth": 1.5, "ticks": false, "gridColor": "#cccccc", "gridWidth": 1.5}
}
}
